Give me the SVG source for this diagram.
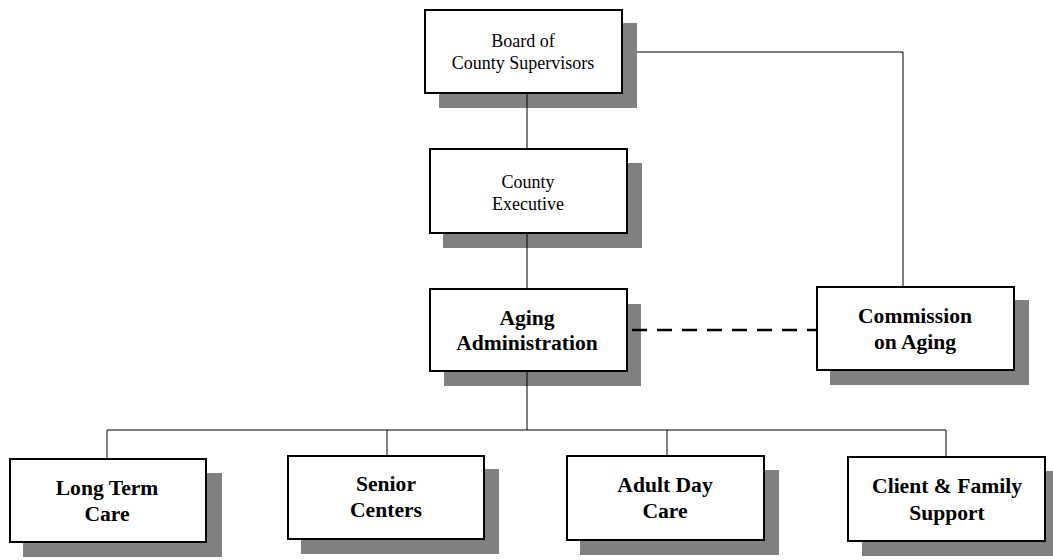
<svg xmlns="http://www.w3.org/2000/svg" width="1053" height="560" viewBox="0 0 1053 560">
<style>
.sh{fill:#808080}
.bx{fill:#fff;stroke:#000;stroke-width:2}
.ln{fill:none;stroke:#000;stroke-width:1}
.dash{fill:none;stroke:#000;stroke-width:2.5;stroke-dasharray:15,10}
.t{font-family:"Liberation Serif",serif;font-size:18px;text-anchor:middle;fill:#000}
.b{font-family:"Liberation Serif",serif;font-size:21.6px;font-weight:bold;text-anchor:middle;fill:#000}
</style>
<rect width="1053" height="560" fill="#fff"/>
<g id="board">
<rect class="sh" x="439" y="23" width="198" height="85"/>
<rect class="bx" x="425" y="10" width="197" height="83"/>
<text class="t" x="523" y="47">Board of</text>
<text class="t" x="523" y="69">County Supervisors</text>
</g>
<g id="county-executive">
<rect class="sh" x="443" y="163" width="199" height="85"/>
<rect class="bx" x="430" y="149" width="197" height="84"/>
<text class="t" x="528" y="188">County</text>
<text class="t" x="528" y="210">Executive</text>
</g>
<g id="aging-administration">
<rect class="sh" x="444" y="304" width="197" height="82"/>
<rect class="bx" x="430" y="289" width="197" height="82"/>
<text class="b" x="527" y="325">Aging</text>
<text class="b" x="527" y="350">Administration</text>
</g>
<g id="commission-on-aging">
<rect class="sh" x="830" y="300" width="199" height="85"/>
<rect class="bx" x="817" y="287" width="197" height="83"/>
<text class="b" x="915" y="323">Commission</text>
<text class="b" x="915" y="349">on Aging</text>
</g>
<g id="long-term-care">
<rect class="sh" x="23" y="473" width="199" height="84"/>
<rect class="bx" x="10" y="459" width="196" height="83"/>
<text class="b" x="107" y="495">Long Term</text>
<text class="b" x="107" y="521">Care</text>
</g>
<g id="senior-centers">
<rect class="sh" x="301" y="469" width="198" height="85"/>
<rect class="bx" x="288" y="456" width="196" height="83"/>
<text class="b" x="386" y="491">Senior</text>
<text class="b" x="386" y="517">Centers</text>
</g>
<g id="adult-day-care">
<rect class="sh" x="580" y="470" width="199" height="85"/>
<rect class="bx" x="567" y="456" width="197" height="84"/>
<text class="b" x="665" y="492">Adult Day</text>
<text class="b" x="665" y="518">Care</text>
</g>
<g id="client-family-support">
<rect class="sh" x="862" y="471" width="199" height="85"/>
<rect class="bx" x="848" y="457" width="197" height="84"/>
<text class="b" x="947" y="493">Client &amp; Family</text>
<text class="b" x="947" y="520">Support</text>
</g>
<g id="connectors">
<path class="ln" d="M527 94V148M527 234V288M527 372V430M107 430H946M107 430V458M387 430V455M667 430V455M946 430V456M637 52H903V286"/>
<path class="dash" d="M632 330H816"/>
</g>
</svg>
